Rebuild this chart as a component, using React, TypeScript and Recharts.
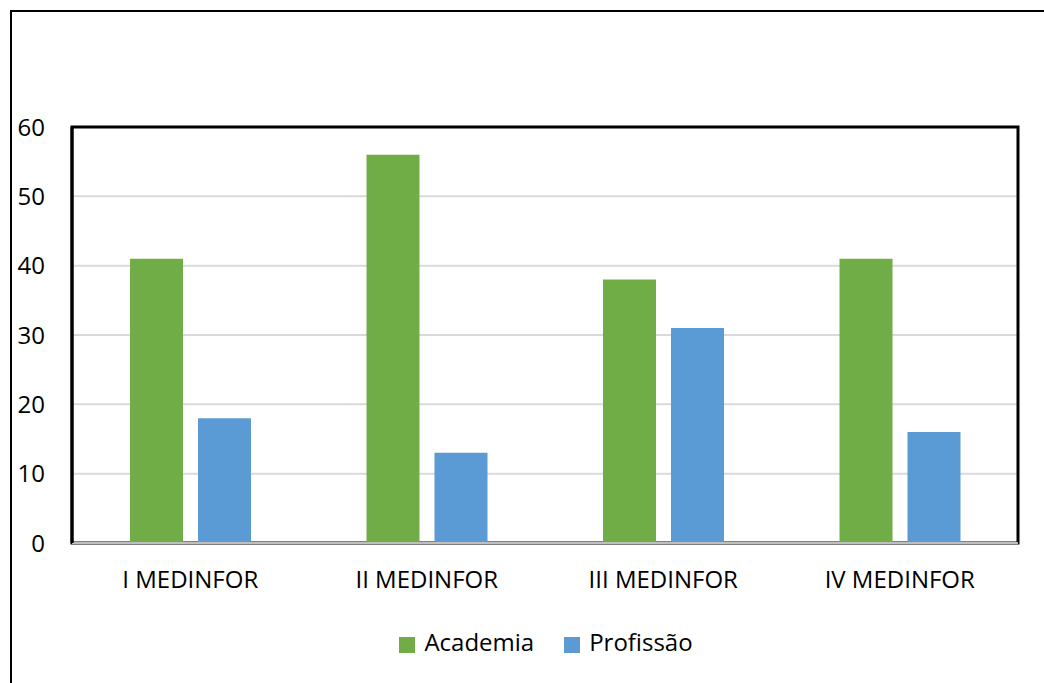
import { BarChart, Bar, XAxis, YAxis, CartesianGrid, Legend, ReferenceArea } from 'recharts';

const categories = ['I MEDINFOR', 'II MEDINFOR', 'III MEDINFOR', 'IV MEDINFOR'];
const academia = [41, 56, 38, 41];
const profissao = [18, 13, 31, 16];
const yTicks = [0, 10, 20, 30, 40, 50, 60];

const FONT = '"Open Sans", sans-serif';

export default function App() {
  const data = categories.map((c, i) => ({
    name: c,
    Academia: academia[i],
    'Profissão': profissao[i],
  }));

  return (
    <div style={{ position: 'absolute', left: 0, top: 0, width: 1044, height: 683, overflow: 'hidden', background: '#fff', fontFamily: FONT }}>
      {/* outer frame, runs off the right and bottom edges */}
      <div style={{ position: 'absolute', left: 10, top: 10, width: 1200, height: 900, border: '2px solid #000' }} />
      <div style={{ position: 'absolute', left: 0, top: 0 }}>
        <BarChart
          width={1044}
          height={683}
          data={data}
          margin={{ top: 127, right: 26, bottom: 26, left: 12 }}
          barSize={53}
          barGap={15}
        >
          <CartesianGrid vertical={false} stroke="#d9d9d9" strokeWidth={2} />
          {/* plot frame */}
          <ReferenceArea y1={0} y2={60} fill="none" stroke="#000" strokeWidth={3} ifOverflow="visible" />
          <XAxis
            dataKey="name"
            height={84}
            axisLine={{ stroke: '#bfbfbf', strokeWidth: 2 }}
            tickLine={false}
            tickSize={0}
            tickMargin={28}
            tick={{ fill: '#000', fontSize: 24, fontFamily: FONT }}
          />
          <YAxis
            width={60}
            domain={[0, 60]}
            ticks={yTicks}
            interval={0}
            axisLine={{ stroke: '#000', strokeWidth: 3 }}
            tickLine={false}
            tickSize={0}
            tickMargin={27}
            tick={{ fill: '#000', fontSize: 24, fontFamily: FONT }}
          />
          <Legend
            verticalAlign="bottom"
            iconType="square"
            iconSize={16}
            wrapperStyle={{ fontSize: 24, fontFamily: FONT, lineHeight: '30px', paddingLeft: 36 }}
            formatter={(value, _entry, index) => (
              <span style={{ color: '#000', marginLeft: 5, marginRight: index === 0 ? 20 : 0 }}>{value}</span>
            )}
          />
          <Bar dataKey="Academia" fill="#70ad47" isAnimationActive={false} />
          <Bar dataKey="Profissão" fill="#5b9bd5" isAnimationActive={false} />
        </BarChart>
      </div>
    </div>
  );
}
